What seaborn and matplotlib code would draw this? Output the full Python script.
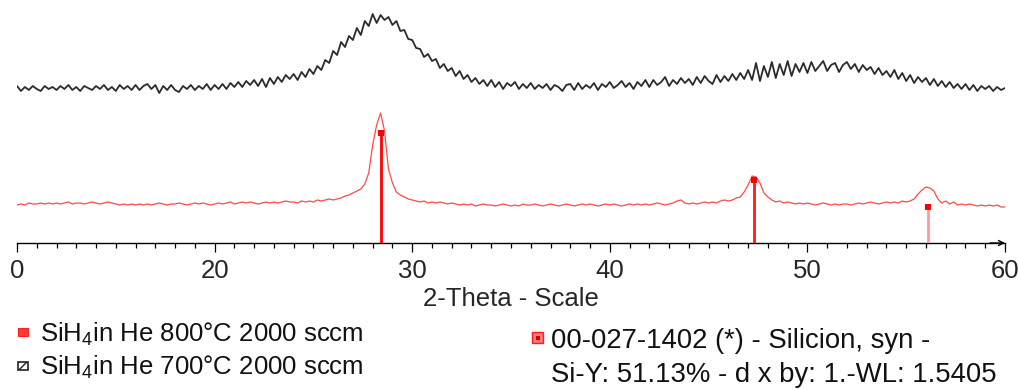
import numpy as np
import pandas as pd
import matplotlib
matplotlib.use("Agg")
import matplotlib.pyplot as plt
from matplotlib.ticker import MultipleLocator, FixedLocator, FixedFormatter
from matplotlib.patches import Rectangle
import seaborn as sns

# ---------------- data ----------------
theta_start, theta_step = 10.0, 0.2   # 2-theta sampling (deg)

black_700C = [
    157, 152, 156, 153, 157, 154, 152, 157, 154, 156,
    153, 157, 154, 158, 153, 156, 152, 157, 155, 153,
    157, 154, 158, 153, 156, 152, 158, 154, 157, 153,
    158, 153, 157, 159, 154, 158, 150, 157, 153, 158,
    153, 151, 157, 154, 158, 153, 157, 154, 159, 153,
    158, 154, 159, 154, 160, 156, 161, 156, 162, 158,
    163, 157, 164, 156, 165, 159, 166, 161, 168, 164,
    169, 163, 171, 166, 174, 169, 177, 173, 183, 180,
    192, 188, 201, 196, 207, 203, 215, 208, 222, 217,
    229, 220, 228, 223, 226, 218, 222, 212, 213, 204,
    203, 195, 194, 186, 189, 182, 184, 175, 179, 172,
    175, 167, 172, 164, 168, 161, 165, 159, 163, 157,
    163, 156, 161, 154, 160, 157, 161, 154, 159, 155,
    160, 154, 158, 155, 159, 153, 158, 156, 152, 158,
    159, 153, 160, 154, 158, 155, 160, 153, 159, 156,
    161, 155, 158, 162, 156, 160, 154, 161, 157, 163,
    156, 163, 158, 161, 166, 157, 163, 159, 165, 160,
    164, 158, 166, 160, 167, 162, 159, 168, 161, 167,
    162, 169, 163, 170, 164, 173, 163, 180, 162, 177,
    166, 181, 165, 179, 168, 182, 167, 179, 171, 180,
    170, 181, 172, 177, 182, 172, 178, 180, 171, 178,
    181, 174, 179, 171, 178, 173, 176, 169, 175, 168,
    172, 166, 173, 164, 170, 162, 168, 160, 166, 161,
    165, 158, 164, 157, 162, 156, 161, 155, 159, 154,
    159, 153, 158, 152, 157, 154, 157, 152, 156, 153,
    155,
]

red_800C = [
    38, 39, 38, 40, 39, 39, 40, 39, 40, 39,
    40, 39, 40, 41, 39, 40, 40, 39, 40, 41,
    40, 39, 40, 41, 40, 39, 38, 39, 38, 39,
    38, 39, 38, 39, 38, 39, 40, 39, 38, 39,
    39, 40, 39, 38, 39, 40, 39, 40, 39, 38,
    39, 40, 39, 40, 41, 39, 40, 41, 40, 41,
    40, 39, 40, 41, 40, 41, 40, 41, 42, 41,
    41, 40, 42, 41, 42, 41, 43, 42, 43, 44,
    43, 44, 45, 47, 48, 50, 52, 54, 59, 70,
    98, 118, 130, 112, 74, 60, 51, 48, 46, 44,
    43, 42, 41, 42, 40, 41, 40, 41, 40, 39,
    40, 39, 38, 39, 38, 39, 37, 38, 39, 38,
    38, 37, 38, 39, 38, 37, 38, 37, 39, 38,
    38, 39, 38, 37, 38, 39, 38, 37, 38, 39,
    38, 37, 38, 39, 38, 39, 38, 37, 38, 39,
    38, 39, 38, 37, 38, 39, 38, 39, 38, 39,
    38, 39, 40, 39, 38, 39, 40, 42, 43, 40,
    39, 40, 39, 40, 41, 40, 41, 40, 42, 43,
    42, 43, 45, 46, 51, 58, 67, 66, 60, 50,
    46, 43, 41, 42, 40, 41, 40, 39, 40, 39,
    40, 39, 38, 39, 40, 39, 38, 39, 38, 39,
    39, 38, 39, 40, 39, 40, 41, 40, 39, 40,
    41, 40, 41, 40, 42, 41, 42, 44, 49, 53,
    56, 55, 52, 44, 40, 42, 39, 41, 38, 39,
    38, 39, 38, 37, 38, 37, 38, 37, 38, 36,
    36,
]

ref_positions = [28.44, 47.30, 56.12]   # 00-027-1402 Silicon
ref_heights = [110, 63, 36]

tick_positions = [10, 20, 30, 40, 50, 60]
tick_labels = ["0", "20", "30", "40", "50", "60"]

label_800 = r"SiH$_4$in He 800°C 2000 sccm"
label_700 = r"SiH$_4$in He 700°C 2000 sccm"
ref_line1 = "00-027-1402 (*) - Silicion, syn -"
ref_line2 = "Si-Y: 51.13% - d x by: 1.-WL: 1.5405"

# ---------------- style ----------------
sns.set_style("white")
plt.rcParams["font.family"] = ["Liberation Sans", "DejaVu Sans"]
plt.rcParams["mathtext.fontset"] = "custom"
plt.rcParams["mathtext.rm"] = "Liberation Sans"
plt.rcParams["mathtext.it"] = "Liberation Sans:italic"
plt.rcParams["mathtext.default"] = "regular"

FS = 18.5
FS_REF = 19.8
W, H = 1019, 389
fig = plt.figure(figsize=(W / 100, H / 100), dpi=100)
ax = fig.add_axes([17 / W, (H - 243) / H, (1005 - 17) / W, 233 / H])

two_theta = theta_start + theta_step * np.arange(len(black_700C))
df_black = pd.DataFrame({"2-Theta": two_theta, "Intensity": black_700C})
df_red = pd.DataFrame({"2-Theta": two_theta, "Intensity": red_800C})

sns.lineplot(data=df_black, x="2-Theta", y="Intensity", ax=ax,
             color="#2b2b2b", linewidth=1.3)
sns.lineplot(data=df_red, x="2-Theta", y="Intensity", ax=ax,
             color="#ff4a4a", linewidth=0.9)

# reference pattern sticks
stick_colors = ["#ff0000", "#ff1a1a", "#ff9a9a"]
ax.vlines(ref_positions, 0, ref_heights, colors=stick_colors, linewidth=2.0, zorder=3)
ax.scatter(ref_positions, ref_heights, marker="s", s=14, color="#ff0000",
           linewidths=0, zorder=4)

ax.set_xlim(10, 60)
ax.set_ylim(0, 233)
ax.set_yticks([])
ax.set_ylabel("")
for s in ["top", "right", "left"]:
    ax.spines[s].set_visible(False)
ax.spines["bottom"].set_color("black")
ax.spines["bottom"].set_linewidth(1.0)

ax.xaxis.set_major_locator(FixedLocator(tick_positions))
ax.xaxis.set_major_formatter(FixedFormatter(tick_labels))
ax.xaxis.set_minor_locator(MultipleLocator(1))
ax.tick_params(axis="x", which="major", direction="out", length=6.5, width=0.9,
               color="black", labelsize=FS, pad=5, bottom=True)
ax.tick_params(axis="x", which="minor", direction="out", length=3.8, width=0.9,
               color="black", bottom=True)
ax.set_xlabel("2-Theta - Scale", fontsize=FS, labelpad=3)

# arrow at the end of the axis
ax.annotate("", xy=(1.0, 0), xycoords="axes fraction", xytext=(0.985, 0),
            textcoords="axes fraction", annotation_clip=False,
            arrowprops=dict(arrowstyle="->", lw=1.0, color="black",
                            mutation_scale=9, shrinkA=0, shrinkB=0))

# legend blocks (figure coordinates)
def fy(px):
    return 1 - px / H

def fx(px):
    return px / W

fig.add_artist(Rectangle((fx(18), fy(336)), 10 / W, 8 / H, facecolor="#ff3b3b",
                         edgecolor="#ff2020", lw=0.8, transform=fig.transFigure))
fig.add_artist(Rectangle((fx(18), fy(370)), 10 / W, 8 / H, facecolor="white",
                         edgecolor="#222222", lw=1.2, hatch="///",
                         transform=fig.transFigure))
fig.text(fx(40), fy(342), label_800, fontsize=FS, va="baseline", ha="left",
         color="#111111")
fig.text(fx(40), fy(375), label_700, fontsize=FS, va="baseline", ha="left",
         color="#111111")

fig.add_artist(Rectangle((fx(532), fy(343)), 11 / W, 11 / H, facecolor="#ff7a7a",
                         edgecolor="#ff1a1a", lw=1.0, transform=fig.transFigure))
fig.add_artist(Rectangle((fx(535.5), fy(339.5)), 4 / W, 4 / H, facecolor="#cc0000",
                         edgecolor="none", transform=fig.transFigure))
fig.text(fx(551), fy(348), ref_line1, fontsize=FS_REF, va="baseline", ha="left",
         color="#111111")
fig.text(fx(551), fy(382), ref_line2, fontsize=FS_REF, va="baseline", ha="left",
         color="#111111")

fig.savefig("out.png", dpi=100, facecolor="white")
